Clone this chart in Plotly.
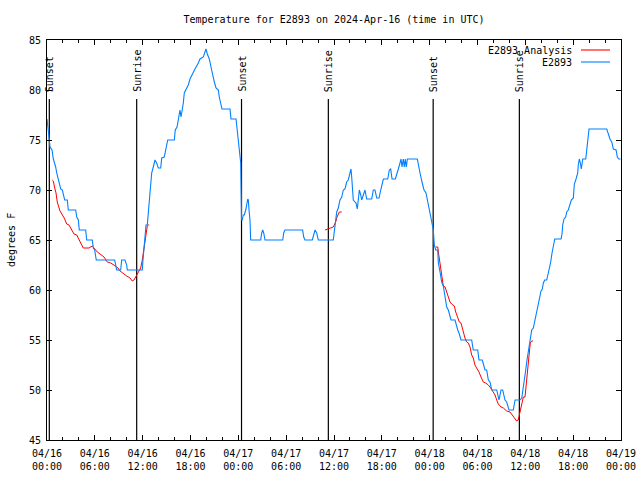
import pandas as pd
import plotly.graph_objects as go

START = pd.Timestamp("2024-04-16 00:00")
END = pd.Timestamp("2024-04-19 00:00")

# Observations (E2893): hours since 2024-04-16 00:00 UTC, degrees F
obs_hours = [
    0.00, 0.16, 0.25, 0.38, 0.63, 0.79, 0.97, 1.09, 1.22, 1.38,
    1.51, 1.72, 1.92, 2.04, 2.22, 2.55, 2.67, 3.60, 3.73, 3.93,
    4.05, 4.85, 4.98, 5.68, 5.81, 5.98, 6.18, 8.49, 8.62, 8.74,
    9.24, 9.37, 9.78, 10.00, 10.07, 11.95, 12.04, 12.17, 12.29, 12.42,
    12.58, 12.71, 12.79, 12.92, 13.05, 13.13, 13.33, 13.55, 13.76, 13.96,
    14.26, 14.39, 14.71, 14.93, 15.14, 15.97, 16.09, 16.31, 16.47, 16.68,
    16.81, 16.93, 17.10, 17.22, 17.52, 17.72, 17.94, 18.28, 18.56, 18.98,
    19.19, 19.61, 19.94, 20.11, 20.36, 20.57, 20.79, 20.99, 21.20, 21.49,
    21.61, 21.79, 21.95, 22.96, 23.08, 23.71, 23.87, 24.00, 24.12, 24.30,
    24.40, 24.50, 24.62, 24.75, 24.93, 25.09, 25.18, 25.25, 25.34, 25.46,
    25.55, 26.81, 26.93, 27.06, 27.18, 27.35, 29.57, 29.69, 29.85, 32.07,
    32.20, 32.36, 33.28, 33.46, 33.62, 33.83, 34.03, 35.91, 36.04, 36.21,
    36.34, 36.54, 36.75, 36.97, 37.17, 37.38, 37.59, 37.79, 38.01, 38.13,
    38.22, 38.35, 38.42, 38.64, 38.76, 38.92, 39.05, 39.18, 39.35, 39.48,
    39.68, 39.89, 40.10, 40.73, 40.93, 41.14, 41.36, 41.65, 41.86, 42.06,
    42.19, 42.74, 42.94, 43.11, 43.28, 43.69, 43.87, 44.07, 44.28, 44.41,
    44.53, 44.69, 44.82, 44.94, 45.07, 45.20, 46.45, 46.63, 46.79, 47.04,
    47.29, 47.54, 47.70, 47.88, 48.04, 48.25, 48.46, 48.58, 48.76, 49.01,
    49.09, 49.30, 49.51, 49.71, 49.84, 50.01, 50.14, 50.34, 50.55, 50.68,
    51.18, 51.39, 51.52, 51.68, 51.93, 53.27, 53.47, 54.03, 54.19, 54.60,
    54.78, 54.94, 55.15, 55.36, 55.57, 55.78, 56.41, 56.70, 56.95, 57.16,
    57.45, 57.66, 57.95, 58.49, 58.71, 59.33, 59.55, 59.71, 59.87, 60.05,
    60.21, 60.37, 60.58, 60.80, 61.00, 61.13, 61.25, 61.43, 61.59, 61.75,
    61.97, 62.13, 62.26, 62.43, 62.68, 62.88, 63.06, 63.18, 63.35, 63.51,
    63.69, 64.48, 64.60, 64.69, 64.85, 65.06, 65.19, 65.39, 65.61, 65.77,
    66.02, 66.15, 66.36, 66.57, 66.64, 66.77, 66.90, 67.02, 67.20, 67.58,
    67.70, 67.83, 67.99, 70.21, 70.41, 70.62, 70.84, 71.04, 71.38, 71.54,
    71.71, 71.94,
]
obs_temp = [
    77.1, 76.2, 75.3, 74.3, 74.0, 73.1, 72.7, 72.3, 71.7, 71.2,
    70.8, 70.1, 70.0, 69.5, 69.0, 69.0, 68.0, 68.0, 67.3, 67.0,
    66.0, 66.0, 65.0, 65.0, 64.2, 64.0, 63.0, 63.0, 62.5, 62.0,
    62.0, 63.0, 63.0, 62.5, 62.0, 62.0, 63.0, 64.3, 65.3, 66.5,
    66.5, 67.7, 68.7, 69.7, 70.7, 71.7, 72.3, 73.0, 72.7, 72.2,
    72.2, 73.2, 73.3, 74.2, 75.0, 75.0, 76.0, 76.3, 77.0, 78.0,
    77.3, 77.8, 78.7, 79.7, 80.2, 80.5, 81.1, 81.7, 82.1, 82.7,
    83.1, 83.3, 84.1, 83.6, 83.1, 82.3, 81.3, 80.8, 80.2, 80.0,
    79.3, 78.7, 78.1, 78.1, 77.1, 77.1, 76.0, 75.3, 74.3, 72.7,
    67.0, 67.0, 67.5, 67.5, 68.0, 68.7, 69.1, 69.0, 68.0, 67.0,
    65.0, 65.0, 65.7, 66.0, 65.7, 65.0, 65.0, 65.7, 66.0, 66.0,
    65.3, 65.0, 65.0, 65.7, 66.0, 65.7, 65.0, 65.0, 66.0, 66.8,
    67.8, 68.2, 69.0, 69.3, 70.0, 70.1, 70.8, 71.0, 71.7, 72.1,
    71.3, 69.8, 69.0, 68.8, 68.7, 68.1, 69.3, 70.0, 69.5, 69.0,
    69.5, 70.0, 69.1, 69.1, 70.0, 70.0, 69.2, 69.2, 70.0, 70.8,
    71.1, 71.1, 72.0, 72.1, 71.1, 71.1, 71.7, 72.1, 72.7, 73.1,
    72.3, 73.1, 72.3, 73.1, 72.3, 73.1, 73.1, 72.5, 71.7, 70.8,
    70.0, 69.7, 69.0, 68.2, 67.5, 66.7, 66.0, 64.5, 64.0, 64.0,
    62.7, 61.8, 60.8, 60.4, 59.7, 59.0, 58.3, 58.0, 57.5, 57.0,
    57.0, 56.3, 56.0, 55.7, 55.0, 55.0, 54.0, 54.0, 53.0, 53.0,
    52.3, 52.0, 52.0, 51.0, 50.8, 50.0, 50.0, 49.0, 50.0, 50.0,
    49.0, 48.8, 48.0, 48.0, 49.0, 49.0, 49.2, 50.0, 50.8, 52.0,
    53.0, 53.8, 55.3, 56.0, 56.2, 56.7, 57.2, 57.8, 58.3, 59.2,
    59.9, 60.1, 60.7, 61.0, 61.0, 61.7, 62.3, 62.8, 63.7, 64.3,
    65.1, 65.1, 65.6, 66.5, 67.1, 67.3, 67.8, 68.0, 68.5, 69.0,
    69.2, 70.6, 71.1, 71.7, 72.5, 73.1, 72.7, 72.1, 73.1, 73.1,
    74.0, 75.3, 76.1, 76.1, 75.5, 75.1, 74.8, 74.1, 74.0, 73.3,
    73.1, 73.1,
]

# Analysis (E2893 Analysis): None separates the three segments
ana_hours = [
    0.66, 0.79, 0.97, 1.13, 1.29, 1.47, 1.63, 1.79, 1.97, 2.22,
    2.47, 2.76, 2.97, 3.17, 3.39, 3.73, 3.98, 4.23, 4.55, 4.73,
    5.27, 5.68, 5.98, 6.31, 6.65, 7.15, 7.56, 7.99, 8.40, 8.91,
    9.16, 9.45, 10.00, 10.41, 10.70, 10.91, 11.13, 11.33, 11.54, 11.75,
    11.95, 12.08, 12.26, 12.46, 12.58, 12.71, 12.83,
    None,
    34.87, 35.29, 35.71, 35.91, 36.04, 36.21, 36.38, 36.54, 36.67, 36.97,
    None,
    48.76, 49.01, 49.09, 49.17, 49.30, 49.42, 49.59, 49.71, 49.93, 50.14,
    50.34, 50.55, 50.76, 51.09, 51.27, 51.47, 51.72, 51.93, 52.10, 52.22,
    52.43, 52.64, 52.85, 53.06, 53.27, 53.47, 53.68, 53.89, 54.19, 54.44,
    54.73, 55.03, 55.36, 55.66, 55.98, 56.20, 56.41, 56.61, 56.95, 57.24,
    57.66, 58.07, 58.36, 58.61, 58.91, 59.11, 59.23, 59.41, 59.55, 59.75,
    59.96, 60.09, 60.21, 60.37, 60.50, 60.62, 60.80, 60.96,
]
ana_temp = [
    71.0, 70.9, 70.2, 69.7, 68.8, 68.2, 67.9, 67.7, 67.5, 67.1,
    66.6, 66.5, 66.2, 65.9, 65.6, 65.5, 65.0, 64.7, 64.2, 64.2,
    64.2, 64.4, 64.1, 63.8, 63.6, 63.3, 62.8, 62.7, 62.5, 62.2,
    61.9, 61.7, 61.4, 61.2, 60.9, 61.0, 61.3, 61.7, 62.0, 62.2,
    63.0, 63.8, 64.8, 65.7, 66.4, 66.5, 66.5,
    None,
    66.0, 66.1, 66.2, 66.3, 66.5, 66.8, 67.3, 67.5, 67.8, 67.8,
    None,
    64.3, 64.3, 63.8, 63.3, 62.5, 61.7, 60.8, 60.4, 60.3, 59.8,
    59.3, 58.8, 58.6, 58.4, 57.8, 57.3, 56.8, 56.7, 56.2, 55.7,
    55.2, 54.8, 54.7, 54.3, 53.5, 53.2, 52.5, 52.2, 51.8, 51.3,
    50.8, 50.7, 50.5, 50.2, 49.8, 49.5, 49.0, 48.6, 48.3, 48.2,
    47.9, 47.8, 47.5, 47.2, 46.9, 47.0, 47.5, 48.2, 48.8, 49.3,
    49.3, 50.3, 51.3, 52.7, 53.7, 54.7, 54.9, 54.9,
]

sun_hours = [0.29, 11.25, 24.40, 35.29, 48.44, 59.25]
sun_labels = ["Sunset", "Sunrise", "Sunset", "Sunrise", "Sunset", "Sunrise"]

series_names = ["E2893 Analysis", "E2893"]
series_colors = ["#ff0000", "#0080ff"]

FONT = "DejaVu Sans Mono"


def to_time(hours):
    return [None if h is None else START + pd.Timedelta(hours=h) for h in hours]


fig = go.Figure()
fig.add_trace(go.Scatter(x=to_time(ana_hours), y=ana_temp, mode="lines",
                         name=series_names[0], connectgaps=False,
                         line=dict(color=series_colors[0], width=1.0)))
fig.add_trace(go.Scatter(x=to_time(obs_hours), y=obs_temp, mode="lines",
                         name=series_names[1],
                         line=dict(color=series_colors[1], width=1.1)))

shapes = []
annotations = []
for h, lab in zip(sun_hours, sun_labels):
    t = START + pd.Timedelta(hours=h)
    shapes.append(dict(type="line", xref="x", yref="paper", x0=t, x1=t,
                       y0=0, y1=0.8525, line=dict(color="black", width=1.2),
                       layer="below"))
    annotations.append(dict(x=t, y=0.865, xref="x", yref="paper", text=lab,
                            textangle=-90, showarrow=False, xanchor="center",
                            yanchor="bottom", font=dict(family=FONT, size=10, color="black")))

# gnuplot-style key: text right-aligned, sample line on the right
L, W, B, H = 47, 574, 440, 400
key_y = [50, 62]
for name, color, py in zip(series_names, series_colors, key_y):
    yp = (B - py) / H
    annotations.append(dict(x=(574 - L) / W, y=yp, xref="paper", yref="paper",
                            text=name, showarrow=False, xanchor="right",
                            yanchor="middle", font=dict(family=FONT, size=10, color="black")))
    shapes.append(dict(type="line", xref="paper", yref="paper",
                       x0=(581 - L) / W, x1=(610 - L) / W, y0=yp, y1=yp,
                       line=dict(color=color, width=1.1)))

annotations.append(dict(x=(11 - L) / W, y=0.5, xref="paper", yref="paper",
                        text="degrees F", textangle=-90, showarrow=False,
                        xanchor="center", yanchor="middle",
                        font=dict(family=FONT, size=10, color="black")))

fig.update_layout(
    width=640, height=480, autosize=False,
    margin=dict(l=47, r=19, t=40, b=40, pad=0, autoexpand=False),
    paper_bgcolor="white", plot_bgcolor="white",
    showlegend=False,
    font=dict(family=FONT, size=10, color="black"),
    title=dict(text="Temperature for E2893 on 2024-Apr-16 (time in UTC)",
               x=0.5, xref="paper", xanchor="center",
               y=1 - 19 / 480, yref="container", yanchor="middle",
               font=dict(family=FONT, size=10, color="black")),
    shapes=shapes,
    annotations=annotations,
)
fig.update_xaxes(
    type="date", range=[START, END], automargin=False,
    tick0=START, dtick=6 * 3600 * 1000, tickformat="%m/%d<br>%H:%M",
    ticks="inside", ticklen=5, tickcolor="black", tickwidth=1,
    minor=dict(dtick=2 * 3600 * 1000, ticks="inside", ticklen=3,
               tickcolor="black", showgrid=False),
    showline=True, linecolor="black", linewidth=1, mirror="ticks",
    showgrid=False, zeroline=False, ticklabelstandoff=4,
    tickfont=dict(family=FONT, size=10, color="black"),
)
fig.update_yaxes(
    range=[45, 85], dtick=5, tick0=45, automargin=False,
    ticks="inside", ticklen=5, tickcolor="black", tickwidth=1,
    showline=True, linecolor="black", linewidth=1, mirror="ticks",
    showgrid=False, zeroline=False, ticklabelstandoff=3,
    tickfont=dict(family=FONT, size=10, color="black"),
)

fig.write_html(
    "out.html",
    config={"displayModeBar": False},
    post_script="document.body.style.margin='0';document.body.style.overflow='hidden';",
)
